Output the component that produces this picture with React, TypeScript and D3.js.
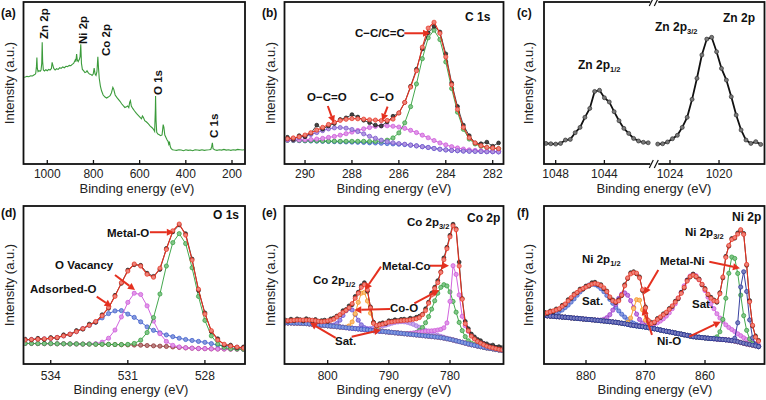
import React from "react";
import * as d3 from "d3";

const FONT = "'Liberation Sans', Arial, Helvetica, sans-serif";

// ---------- layout (frames) ----------
const COLS: [number, number][] = [[23.5, 245], [284.5, 503.5], [544, 764.5]];
const ROWS: [number, number][] = [[2, 164], [206, 364]];

// ---------- colours ----------
const RED = "#e5301f";
const GREEN = "#2f9e3a";
const MAGENTA = "#cc52d9";
const VIOLET = "#7a52cc";
const BLUE = "#3556c8";
const NAVY = "#232c95";
const ORANGE = "#f7941d";
const PURPLE = "#9a2fc9";
const BROWN = "#8a2b2b";
const LAVENDER = "#a070e0";
const INDIGO = "#6048d0";
const SURVEY_GREEN = "#3b9b3b";

// ================= (a) survey =================
const surveyBE = [1104,1095,1088,1080,1072,1064,1058,1052,1050,1047,1045,1043,1040,1036,1031,1027,1024,1022,1020,1017,1012,1006,1000,994,988,982,979,976,972,966,960,953,946,940,933,926,919,912,905,898,892,886,882,879,876,873,870,866,861,858,855,852,848,843,837,832,828,823,817,811,806,801,797,793,789,785,781,778,775,770,765,758,750,743,736,728,722,716,712,706,699,692,685,678,671,664,657,652,647,643,640,636,630,622,614,606,598,592,588,584,578,570,562,554,546,540,535,532,531,529,526,521,515,509,503,498,495,491,486,481,477,474,471,468,464,458,450,440,430,420,410,400,390,380,370,360,350,340,330,320,310,300,292,288,285,282,275,265,255,245,235,225,215,205,195,185,175,165,155,147];
const surveyI = [53.5,53.7,54.1,53.9,54.5,54.3,54.9,55.5,56.0,60.1,65.8,59.0,57.0,57.6,57.2,58.0,62.1,75.1,63.2,58.0,57.4,58.2,57.6,58.4,58.0,59.0,62.7,61.1,59.0,58.0,58.8,58.4,59.4,59.0,59.9,59.4,60.3,60.1,60.9,60.7,61.5,62.1,63.2,64.2,63.2,67.9,64.2,63.2,64.6,66.2,73.9,62.1,58.4,57.6,56.4,56.8,57.6,56.4,55.5,55.3,54.7,55.5,59.2,55.5,54.7,57.0,66.2,59.0,52.9,48.1,45.2,42.6,41.3,40.7,41.3,42.2,44.0,47.3,46.1,42.6,41.1,39.9,38.7,37.2,36.0,34.9,35.4,35.8,34.8,38.2,39.1,35.8,34.3,32.7,31.2,30.0,28.8,27.9,29.6,28.8,26.7,25.9,24.7,23.4,22.4,21.4,20.1,33.3,42.0,27.1,19.5,18.5,18.1,17.5,17.9,24.3,22.6,17.9,16.4,14.8,14.0,12.3,13.8,11.1,9.6,8.8,8.6,8.4,8.8,8.6,8.2,8.8,8.4,8.6,8.2,8.8,8.6,8.4,8.8,8.4,8.6,8.8,9.0,10.7,13.1,9.4,8.8,8.4,8.8,8.6,9.0,8.6,8.8,8.4,8.8,8.6,9.0,8.8,8.6,8.8];
const surveyDomain: [number, number] = [1103, 143.7];
const surveyTicks = [1000, 800, 600, 400, 200];

// ================= (b) C 1s =================
const c1sBE = [290.75,290.5,290.25,290,289.75,289.5,289.25,289,288.75,288.5,288.25,288,287.75,287.5,287.25,287,286.75,286.5,286.25,286,285.75,285.5,285.25,285,284.75,284.5,284.25,284,283.75,283.5,283.25,283,282.75,282.5,282.25,282,281.75];
const c1sBaseline = [14.6,14.5,14.4,14.3,14.2,14.1,14.0,13.9,13.8,13.7,13.6,13.5,13.4,13.3,13.1,13.0,12.8,12.6,12.4,12.2,12.0,11.6,11.2,10.7,10.2,9.6,9.1,8.7,8.4,8.2,8.0,7.9,7.8,7.7,7.6,7.6,7.5];
const c1sCC = [0.1,0.1,0.1,0.1,0.2,0.2,0.2,0.2,0.3,0.3,0.4,0.5,0.6,0.7,0.8,1.0,1.35,2.1,3.7,7.0,13.4,23.8,38.2,54.3,67.7,73,67.7,54.3,38.2,23.8,13.4,7.5,4.6,3.2,2.5,2.1,1.9];
const c1sCO = [0.2,0.3,0.4,0.6,0.9,1.3,1.8,2.5,3.2,4.1,5.1,6.2,7.3,8.4,9.4,10.2,10.7,11.0,10.9,10.6,10.0,9.2,8.2,7.1,6.0,4.9,3.9,3.1,2.3,1.7,1.2,0.8,0.6,0.4,0.2,0.2,0.1];
const c1sOCO = [0.7,1.2,1.9,2.9,4.0,5.3,6.6,7.8,8.5,8.8,8.5,7.8,6.6,5.3,4.0,2.9,1.9,1.2,0.7,0.4,0.2,0.1];
const c1sEnvelope = [15.6,16.1,16.8,17.9,19.3,20.9,22.6,24.4,25.8,26.9,27.6,28.0,27.9,27.7,27.3,27.1,26.8,26.9,27.7,31.5,38.0,47.5,57.6,72.1,83.9,87.5,80.7,66.1,48.9,33.7,22.6,16.2,13.0,11.3,10.3,9.9,9.5];
const c1sRaw = [16.5,15.0,17.5,16.8,19.0,24.0,21.5,23.5,25.0,27.5,28.5,30.5,29.0,27.0,25.5,24.0,23.5,26.0,29.5,31.5,38.0,48.0,58.5,71.0,81.0,85.0,81.5,68.0,50.0,35.5,24.0,17.5,13.0,12.5,13.5,11.0,13.0];
const c1sDomain: [number, number] = [290.875, 281.54];
const c1sTicks = [290, 288, 286, 284, 282];

// ================= (c) Zn 2p =================
const znLeftBE = [1048.8,1048.4,1048.0,1047.6,1047.2,1046.8,1046.4,1046.0,1045.6,1045.2,1044.8,1044.4,1044.0,1043.6,1043.2,1042.8,1042.4,1042.0,1041.6,1041.2,1040.8,1040.4];
const znLeftI = [12.7,12.5,12.3,12.7,14.8,15.2,19.3,22.6,28.8,34.3,44.8,45.5,40.9,38.3,32.3,26.7,22.0,18.9,15.8,14.2,13.4,13.1];
const znRightBE = [1025.0,1024.6,1024.2,1023.8,1023.4,1023.0,1022.6,1022.2,1021.8,1021.4,1021.0,1020.6,1020.2,1019.8,1019.4,1019.0,1018.6,1018.2,1017.8,1017.4,1017.0,1016.6];
const znRightI = [12.3,12.5,13.6,15.6,17.7,22.6,28.8,39.9,52.9,67.3,77.1,78.2,69.3,59.0,51.8,41.5,30.2,21.0,14.8,12.7,13.8,12.1];
const znLeftDomain: [number, number] = [1048.96, 1039.9];
const znRightDomain: [number, number] = [1025.28, 1016.29];
const znLeftTicks = [1048, 1044];
const znRightTicks = [1024, 1020];

// ================= (d) O 1s =================
const o1sBE = [535,534.75,534.5,534.25,534,533.75,533.5,533.25,533,532.75,532.5,532.25,532,531.75,531.5,531.25,531,530.75,530.5,530.25,530,529.75,529.5,529.25,529,528.75,528.5,528.25,528,527.75,527.5,527.25,527,526.75,526.5];
const o1sBaseline = [13.0,13.0,12.9,12.9,12.9,12.8,12.8,12.7,12.7,12.6,12.6,12.5,12.5,12.4,12.3,12.2,12.1,12.0,11.9,11.7,11.5,11.3,11.1,10.8,10.5,10.2,10.0,9.8,9.7,9.6,9.5,9.5,9.4,9.4,9.3];
const o1sMetalO = [0.1,0.3,1.0,3.2,8.2,17.9,33.0,50.9,66.0,72,66.0,50.9,33.0,17.9,8.2,3.2,1.0,0.3,0.1];
const o1sVacancy = [0.1,0.35,1.3,3.9,9.2,17.6,26.9,32.8,32.1,25.1,15.7,7.9,3.2,1.0,0.3,0.1];
const o1sAdsorbed = [2.2,2.5,2.8,3.0,3.3,4.0,5.0,6.2,7.8,9.8,11.8,14.0,16.7,19.5,21.3,21.6,19.5,17.5,14.8,11.8,9.8,8.4,7.3,6.5,5.8,5.3,4.9,4.5,4.0,3.3,2.5,2.0,1.7,1.2,0.8];
const o1sEnvelope = [15.2,15.5,15.7,15.9,16.2,16.8,17.8,18.9,20.5,22.4,24.5,26.9,30.5,35.8,42.8,51.5,58.8,63.3,62.0,56.8,54.9,60.6,72.5,84.3,88.6,81.6,65.8,47.3,31.6,21.1,15.2,12.5,11.4,10.7,10.1];
const o1sRaw = [15.8,15.2,16.3,15.5,16.8,16.4,18.5,18.6,21.2,22.0,25.3,26.4,31.2,35.2,43.5,51.0,59.5,62.8,62.5,57.5,55.5,59.8,73.2,83.6,88.0,82.5,66.5,46.5,32.4,20.5,16.0,12.0,12.0,10.2,10.8];
const o1sDomain: [number, number] = [535.06, 526.44];
const o1sTicks = [534, 531, 528];

// ================= (e) Co 2p =================
const coBE = [807,806.5,806,805.5,805,804.5,804,803.5,803,802.5,802,801.5,801,800.5,800,799.5,799,798.5,798,797.5,797,796.5,796,795.5,795,794.5,794,793.5,793,792.5,792,791.5,791,790.5,790,789.5,789,788.5,788,787.5,787,786.5,786,785.5,785,784.5,784,783.5,783,782.5,782,781.5,781,780.5,780,779.5,779,778.5,778,777.5,777,776.5,776,775.5,775,774.5,774,773.5,773,772.5,772,771.5];
const coBaseline = [26.0,26.0,26.0,25.9,25.9,25.8,25.7,25.6,25.4,25.2,25.0,24.8,24.6,24.4,24.2,24.0,23.8,23.6,23.4,23.2,23.0,22.8,22.6,22.4,22.2,22.0,21.8,21.6,21.4,21.2,21.0,20.8,20.6,20.4,20.2,20.0,19.8,19.6,19.4,19.2,19.0,18.8,18.6,18.4,18.2,18.0,17.8,17.6,17.4,17.2,17.0,16.7,16.4,16.0,15.6,15.2,14.7,14.2,13.7,13.2,12.7,12.2,11.8,11.4,11.0,10.6,10.2,9.9,9.6,9.2,8.9,8.6];
const coSatHigh = [0.4,0.6,0.8,1.0,1.3,1.6,1.8,1.95,2.0,1.95,1.8,1.6,1.3,1.0,0.8,0.6,0.4,0.3,0.2,0.1];
const coSatLow = [0.2,0.3,0.5,0.8,1.1,1.5,2.1,2.7,3.4,4.2,5.0,5.8,6.5,7.0,7.4,7.5,7.4,7.0,6.5,5.8,5.0,4.2,3.4,2.7,2.1,1.5,1.1,0.8,0.5,0.3,0.2];
const coOxide12 = [0.2,0.8,2.0,4.3,7.5,10.7,12.35,11.6,8.9,5.5,2.8,1.2,0.4,0.1];
const coMetal12 = [0.3,1.3,4.0,9.4,16.8,22.8,23.5,18.3,10.8,4.8,1.6,0.4,0.1];
const coOxide32 = [0.2,0.4,0.8,1.6,3.0,5.1,8.3,12.4,17.3,22.8,27.8,31.8,33.8,33.4,30.0,24.4,18.1,12.1,7.4,4.1,2.0,0.9,0.4,0.2,0.1];
const coMetal32 = [0.3,0.6,1.0,1.5,2.0,2.5,3.0,3.3,3.6,4.0,4.5,5.2,6.5,10.0,24.0,47.0,42.0,29.5,16.5,11.0,8.0,6.0,4.6,3.6,2.9,2.3,1.9,1.5,1.2,1.0,0.8,0.6];
const coEnvelope = [27.2,27.4,27.5,27.7,27.8,27.8,27.8,27.8,27.8,27.7,27.4,27.1,26.8,27.0,27.3,27.7,28.4,29.8,31.2,32.7,34.0,35.6,38.2,41.6,44.8,48.5,50.2,47.0,35.5,25.7,24.3,24.8,25.3,25.9,26.5,26.7,27.0,27.2,27.4,27.6,27.7,27.9,28.3,28.6,29.4,31.2,33.8,38.5,43.7,47.8,51.5,58.0,66.0,73.0,80.5,87.5,85.0,62.0,41.0,25.5,21.0,17.6,15.8,14.3,13.2,12.2,11.3,10.7,10.2,9.7,9.3,9.0];
const coRaw = [28.0,27.0,28.4,27.3,28.6,28.1,27.2,28.7,28.0,27.1,28.2,26.9,27.5,27.8,26.9,28.6,29.1,30.4,31.0,33.8,34.5,36.8,37.5,42.8,45.5,49.6,51.5,46.0,36.2,26.5,24.0,25.6,26.1,25.5,27.4,27.2,28.0,27.5,28.3,28.4,27.9,29.0,28.6,29.6,30.3,31.6,35.0,39.2,44.8,48.6,52.8,58.4,67.2,73.9,81.5,88.5,85.6,64.5,41.5,27.0,22.4,19.0,17.2,15.6,14.8,13.1,12.8,11.6,12.0,10.6,11.0,10.4];
const coDomain: [number, number] = [807.06, 771.25];
const coTicks = [800, 790, 780];

// ================= (f) Ni 2p =================
const niBE = [887,886.5,886,885.5,885,884.5,884,883.5,883,882.5,882,881.5,881,880.5,880,879.5,879,878.5,878,877.5,877,876.5,876,875.5,875,874.5,874,873.5,873,872.5,872,871.5,871,870.5,870,869.5,869,868.5,868,867.5,867,866.5,866,865.5,865,864.5,864,863.5,863,862.5,862,861.5,861,860.5,860,859.5,859,858.5,858,857.5,857,856.5,856,855.5,855,854.5,854,853.5,853,852.5,852,851.5,851];
const niBaseline = [30.6,30.5,30.3,30.2,30.0,29.9,29.7,29.6,29.4,29.2,29.0,28.9,28.7,28.5,28.3,28.2,28.0,27.8,27.6,27.4,27.2,27.0,26.8,26.6,26.4,26.1,25.8,25.5,25.1,24.7,24.4,24.1,23.8,23.6,23.3,23.0,22.6,22.3,21.9,21.5,21.1,20.7,20.4,20.0,19.6,19.2,18.9,18.5,18.1,17.7,17.3,17.1,16.9,16.7,16.5,16.3,16.1,16.0,15.8,15.6,15.5,15.3,15.1,14.8,14.5,14.1,13.6,13.1,12.7,12.3,11.9,11.5,11.0];
const niSat12 = [0.4,0.7,1.0,1.6,2.3,3.3,4.5,6.1,7.9,10.0,12.2,14.6,16.9,18.9,20.7,21.8,22.5,22.4,21.7,20.3,18.6,16.4,14.1,11.8,9.5,7.5,5.7,4.2,3.0,2.1,1.4,0.9,0.6,0.4,0.2,0.1];
const niOxide12 = [0.2,0.4,1.1,2.3,4.4,7.5,11.4,15.4,18.4,19.5,18.4,15.4,11.4,7.5,4.4,2.3,1.1,0.4,0.2];
const niMetal12 = [0.2,1.2,4.4,10.7,16.6,16.6,10.7,4.4,1.2,0.2];
const niSat32 = [0.2,0.3,0.5,0.8,1.3,2.0,3.0,4.2,5.7,7.5,9.6,12.0,15.0,18.5,22.5,26.5,31.0,35.0,38.0,39.4,38.8,36.5,33.5,30.0,26.0,22.0,19.0,16.0,13.5,11.5,9.5,8.0,7.0,6.0,5.0,4.3,3.5,2.8,2.2,1.8,1.4,1.0];
const niOxide32 = [0.3,1.4,4.8,12.7,26.3,42.3,52.9,52.3,43.2,30.0,17.5,8.6,3.5,1.2,0.4,0.1];
const niMetal32 = [0.1,1.8,12.0,35.1,45.3,33.2,15.6,4.7,0.9,0.1];
const niEnvelope = [32.0,32.5,33.0,33.6,34.2,35.0,36.5,38.0,40.0,42.0,43.8,45.3,46.8,47.8,48.7,49.7,50.6,51.0,50.6,49.6,48.2,45.8,42.5,40.0,39.3,40.0,43.6,49.5,54.5,57.0,57.9,57.5,54.5,47.0,35.5,27.5,25.7,26.5,28.2,29.8,31.2,32.8,34.6,36.8,39.2,41.8,44.7,48.5,52.5,55.3,56.3,55.4,53.3,50.5,47.3,44.2,41.6,40.0,39.6,44.5,55.0,67.5,75.0,78.8,80.0,82.2,85.0,82.0,63.0,39.4,24.5,17.0,14.5];
const niRaw = [32.8,31.9,33.6,33.0,34.9,34.6,37.2,37.6,40.8,41.5,44.4,45.0,47.5,47.3,49.4,49.2,51.5,51.8,50.2,50.3,47.6,46.2,42.0,40.6,38.8,40.7,43.2,50.2,54.0,57.8,58.5,57.0,55.2,46.4,36.2,27.0,26.4,26.0,28.9,29.3,31.8,32.3,35.2,36.3,39.8,41.2,45.4,48.0,53.2,55.0,57.0,55.0,53.9,50.0,47.9,43.8,42.3,40.6,39.0,45.2,54.4,68.2,74.5,79.5,79.6,83.0,84.6,82.7,62.4,40.2,24.0,17.8,15.0];
const niDomain: [number, number] = [887.06, 850.0];
const niTicks = [880, 870, 860];

// ---------- helpers ----------
type Pt = [number, number];
type Comp = { color: string; startBE: number; values: number[] };
type ArrowSpec = { from: Pt; to: Pt };

const lineGen = (x: (v: number) => number, y: (v: number) => number) =>
  d3.line<Pt>().x((d) => x(d[0])).y((d) => y(d[1]));

function Dotted({ pts, x, y, color, r = 2.1, sw = 0.9, fill, lineColor }: any) {
  const light = fill || d3.interpolateRgb(color, "#ffffff")(0.4);
  const path = lineGen(x, y)(pts) || "";
  return (
    <g>
      <path d={path} fill="none" stroke={lineColor || color} strokeWidth={sw} />
      {pts.map((p: Pt, i: number) => (
        <circle key={i} cx={x(p[0])} cy={y(p[1])} r={r} fill={light} stroke={color} strokeWidth={0.7} />
      ))}
    </g>
  );
}

function Arrow({ x1, y1, x2, y2 }: { x1: number; y1: number; x2: number; y2: number }) {
  const ang = Math.atan2(y2 - y1, x2 - x1);
  const L = 7, W = 3.6;
  const bx = x2 - L * Math.cos(ang), by = y2 - L * Math.sin(ang);
  const px = -Math.sin(ang) * W, py = Math.cos(ang) * W;
  return (
    <g>
      <line x1={x1} y1={y1} x2={bx} y2={by} stroke={RED} strokeWidth={2} />
      <polygon points={`${x2},${y2} ${bx + px},${by + py} ${bx - px},${by - py}`} fill={RED} />
    </g>
  );
}

function Axes({ col, row, tag, titleX, ylabX }: { col: number; row: number; tag: string; titleX: number; ylabX: number }) {
  const [x0, x1] = COLS[col];
  const [y0, y1] = ROWS[row];
  const titleY = row === 0 ? 192.5 : 394;
  const tagY = row === 0 ? 17 : 217;
  const tagX = [1, 262, 517][col];
  return (
    <g>
      <rect x={x0} y={y0} width={x1 - x0} height={y1 - y0} fill="none" stroke="#111" strokeWidth={1.8} />
      <text x={titleX} y={titleY} textAnchor="middle" fontSize={13} fill="#222">Binding energy (eV)</text>
      <text transform={`translate(${ylabX},${(y0 + y1) / 2}) rotate(-90)`} textAnchor="middle" fontSize={13} fill="#222">Intensity (a.u.)</text>
      <text x={tagX} y={tagY} fontSize={12} fontWeight="bold" fill="#111">{tag}</text>
    </g>
  );
}

function Ticks({ scale, ticks, row }: { scale: (v: number) => number; ticks: number[]; row: number }) {
  const y1 = ROWS[row][1];
  const lab = row === 0 ? 178 : 380;
  return (
    <g>
      {ticks.map((t) => (
        <g key={t}>
          <line x1={scale(t)} x2={scale(t)} y1={y1} y2={y1 - 4} stroke="#111" strokeWidth={1.3} />
          <text x={scale(t)} y={lab} textAnchor="middle" fontSize={12} fill="#222">{t}</text>
        </g>
      ))}
    </g>
  );
}

function Label({ x, y, children, size = 11.5 }: any) {
  return <text x={x} y={y} fontSize={size} fontWeight="bold" fill="#111">{children}</text>;
}

function Sub({ children }: any) {
  return <tspan fontSize={7.5} dy={3}>{children}</tspan>;
}

function FitPanel(props: {
  id: string; col: number; row: number; domain: [number, number]; ticks: number[];
  grid: number[]; baseline: number[]; baseColor: string; baseUnder: boolean;
  comps: Comp[]; envelope: number[]; raw: number[]; arrows: ArrowSpec[];
  tag: string; titleX: number; ylabX: number; children?: any;
}) {
  const { id, col, row, domain, ticks, grid, baseline, baseColor, baseUnder, comps, envelope, raw, arrows } = props;
  const [x0, x1] = COLS[col];
  const [y0, y1] = ROWS[row];
  const x = d3.scaleLinear().domain(domain).range([x0, x1]);
  const y = d3.scaleLinear().domain([0, 100]).range([y1, y0]);
  const basePts: Pt[] = grid.map((b, i) => [b, baseline[i]]);
  const compPts = comps.map((c) => {
    const s = grid.indexOf(c.startBE);
    return grid.map((b, i) => [b, baseline[i] + (i >= s && i < s + c.values.length ? c.values[i - s] : 0)] as Pt);
  });
  const envPts: Pt[] = grid.map((b, i) => [b, envelope[i]]);
  const rawPts: Pt[] = grid.map((b, i) => [b, raw[i]]);
  const baseEl = <Dotted pts={basePts} x={x} y={y} color={baseColor} />;
  return (
    <g>
      <defs>
        <clipPath id={`clip-${id}`}>
          <rect x={x0 + 1} y={y0 + 1} width={x1 - x0 - 2} height={y1 - y0 - 2} />
        </clipPath>
      </defs>
      <g clipPath={`url(#clip-${id})`}>
        {baseUnder && baseEl}
        {comps.map((c, k) => (
          <Dotted key={k} pts={compPts[k]} x={x} y={y} color={c.color} />
        ))}
        {!baseUnder && baseEl}
        <Dotted pts={rawPts} x={x} y={y} color="#1a1a1a" r={1.9} sw={0.8} fill="#444" />
        <Dotted pts={envPts} x={x} y={y} color={RED} r={2.1} sw={1.1} />
      </g>
      <Axes col={col} row={row} tag={props.tag} titleX={props.titleX} ylabX={props.ylabX} />
      <Ticks scale={x} ticks={ticks} row={row} />
      {arrows.map((a, k) => (
        <Arrow key={k} x1={x(a.from[0])} y1={y(a.from[1])} x2={x(a.to[0])} y2={y(a.to[1])} />
      ))}
      {props.children}
    </g>
  );
}

function SurveyPanel() {
  const [x0, x1] = COLS[0];
  const [y0, y1] = ROWS[0];
  const x = d3.scaleLinear().domain(surveyDomain).range([x0, x1]);
  const y = d3.scaleLinear().domain([0, 100]).range([y1, y0]);
  const pts: Pt[] = surveyBE.map((b, i) => [b, surveyI[i]]);
  const path = lineGen(x, y)(pts) || "";
  const vlab = (tx: number, ty: number, s: string) => (
    <text transform={`translate(${tx},${ty}) rotate(-90)`} fontSize={11.5} fontWeight="bold" fill="#111">{s}</text>
  );
  return (
    <g>
      <path d={path} fill="none" stroke={SURVEY_GREEN} strokeWidth={1.1} />
      <Axes col={0} row={0} tag="(a)" titleX={137} ylabX={14} />
      <Ticks scale={x} ticks={surveyTicks} row={0} />
      {vlab(48, 39, "Zn 2p")}
      {vlab(87, 44, "Ni 2p")}
      {vlab(110, 56, "Co 2p")}
      {vlab(162, 95, "O 1s")}
      {vlab(218, 138, "C 1s")}
    </g>
  );
}

function ZnPanel() {
  const [y0, y1] = ROWS[0];
  const xb = 654.3;
  const xL = d3.scaleLinear().domain(znLeftDomain).range([COLS[2][0], xb]);
  const xR = d3.scaleLinear().domain(znRightDomain).range([xb, COLS[2][1]]);
  const y = d3.scaleLinear().domain([0, 100]).range([y1, y0]);
  const left: Pt[] = znLeftBE.map((b, i) => [b, znLeftI[i]]);
  const right: Pt[] = znRightBE.map((b, i) => [b, znRightI[i]]);
  const brk = (yy: number) => (
    <g stroke="#111" strokeWidth={1.2}>
      <rect x={xb - 4} y={yy - 2} width={8} height={4} fill="#fff" stroke="none" />
      <line x1={xb - 5} y1={yy + 4} x2={xb - 1} y2={yy - 4} />
      <line x1={xb} y1={yy + 4} x2={xb + 4} y2={yy - 4} />
    </g>
  );
  return (
    <g>
      <Dotted pts={left} x={xL} y={y} color="#333" lineColor="#111" r={2.0} sw={1.8} fill="#7a7a7a" />
      <Dotted pts={right} x={xR} y={y} color="#333" lineColor="#111" r={2.0} sw={1.8} fill="#7a7a7a" />
      <Axes col={2} row={0} tag="(c)" titleX={654} ylabX={533} />
      <Ticks scale={xL} ticks={znLeftTicks} row={0} />
      <Ticks scale={xR} ticks={znRightTicks} row={0} />
      {brk(y0)}
      {brk(y1)}
      <Label x={723} y={21.5} size={12}>Zn 2p</Label>
      <Label x={655} y={30.5} size={12}>Zn 2p<Sub>3/2</Sub></Label>
      <Label x={578} y={68.5} size={12}>Zn 2p<Sub>1/2</Sub></Label>
    </g>
  );
}

export default function App() {
  return (
    <svg width={766} height={400} style={{ position: "absolute", left: 0, top: 0, background: "#fff" }} fontFamily={FONT}>
      <rect width={766} height={400} fill="#fff" />
      <SurveyPanel />
      <FitPanel
        id="b" col={1} row={0} domain={c1sDomain} ticks={c1sTicks} grid={c1sBE}
        baseline={c1sBaseline} baseColor={BLUE} baseUnder={true}
        comps={[
          { color: GREEN, startBE: 290.75, values: c1sCC },
          { color: MAGENTA, startBE: 290.75, values: c1sCO },
          { color: VIOLET, startBE: 290.75, values: c1sOCO },
        ]}
        envelope={c1sEnvelope} raw={c1sRaw}
        arrows={[
          { from: [285.77, 80.7], to: [284.67, 80.7] },
          { from: [289.03, 35.8], to: [288.77, 25.5] },
          { from: [286.48, 35.4], to: [286.71, 26.7] },
        ]}
        tag="(b)" titleX={394} ylabX={275}
      >
        <Label x={465} y={20.7} size={12}>C 1s</Label>
        <Label x={355} y={37}>C−C/C=C</Label>
        <Label x={307} y={101}>O−C=O</Label>
        <Label x={370} y={101}>C−O</Label>
      </FitPanel>
      <ZnPanel />
      <FitPanel
        id="d" col={0} row={1} domain={o1sDomain} ticks={o1sTicks} grid={o1sBE}
        baseline={o1sBaseline} baseColor={BROWN} baseUnder={true}
        comps={[
          { color: BLUE, startBE: 535, values: o1sAdsorbed },
          { color: MAGENTA, startBE: 532.5, values: o1sVacancy },
          { color: GREEN, startBE: 531.25, values: o1sMetalO },
        ]}
        envelope={o1sEnvelope} raw={o1sRaw}
        arrows={[
          { from: [530.14, 83.4], to: [529.21, 83.4] },
          { from: [531.5, 56.3], to: [530.72, 46.8] },
          { from: [532.21, 42.6], to: [531.63, 36.3] },
        ]}
        tag="(d)" titleX={131} ylabX={14}
      >
        <Label x={213} y={218.5} size={12}>O 1s</Label>
        <Label x={107} y={236.5}>Metal-O</Label>
        <Label x={55} y={268.5}>O Vacancy</Label>
        <Label x={30} y={293}>Adsorbed-O</Label>
      </FitPanel>
      <FitPanel
        id="e" col={1} row={1} domain={coDomain} ticks={coTicks} grid={coBE}
        baseline={coBaseline} baseColor={BLUE} baseUnder={false}
        comps={[
          { color: LAVENDER, startBE: 807, values: coSatHigh },
          { color: LAVENDER, startBE: 795, values: coSatLow },
          { color: GREEN, startBE: 787, values: coOxide32 },
          { color: MAGENTA, startBE: 787, values: coMetal32 },
          { color: INDIGO, startBE: 799.5, values: coOxide12 },
          { color: ORANGE, startBE: 797, values: coMetal12 },
        ]}
        envelope={coEnvelope} raw={coRaw}
        arrows={[
          { from: [783.27, 62.2], to: [780.16, 62.2] },
          { from: [791.28, 61.6], to: [793.9, 46.8] },
          { from: [789.81, 34.8], to: [795.65, 34.2] },
          { from: [785.83, 38.4], to: [781.75, 46.8] },
          { from: [798.69, 16.6], to: [802.89, 26.1] },
          { from: [796.07, 17.3], to: [791.28, 21.5] },
        ]}
        tag="(e)" titleX={394} ylabX={275}
      >
        <Label x={467} y={221.5} size={12}>Co 2p</Label>
        <Label x={407} y={226}>Co 2p<Sub>3/2</Sub></Label>
        <Label x={382} y={270}>Metal-Co</Label>
        <Label x={313} y={283.5}>Co 2p<Sub>1/2</Sub></Label>
        <Label x={390} y={312}>Co-O</Label>
        <Label x={335} y={345}>Sat.</Label>
      </FitPanel>
      <FitPanel
        id="f" col={2} row={1} domain={niDomain} ticks={niTicks} grid={niBE}
        baseline={niBaseline} baseColor={NAVY} baseUnder={false}
        comps={[
          { color: BLUE, startBE: 887, values: niSat12 },
          { color: MAGENTA, startBE: 871.5, values: niSat32 },
          { color: PURPLE, startBE: 878, values: niOxide12 },
          { color: ORANGE, startBE: 873.5, values: niMetal12 },
          { color: GREEN, startBE: 858.5, values: niOxide32 },
          { color: NAVY, startBE: 855.5, values: niMetal32 },
        ]}
        envelope={niEnvelope} raw={niRaw}
        arrows={[
          { from: [867.85, 59.5], to: [870.25, 44.1] },
          { from: [859.28, 64.7], to: [854.12, 60.6] },
          { from: [868.91, 18.4], to: [870.42, 35.4] },
          { from: [862.64, 17.3], to: [857.36, 26.8] },
        ]}
        tag="(f)" titleX={655} ylabX={533}
      >
        <Label x={732} y={221} size={12}>Ni 2p</Label>
        <Label x={685} y={236}>Ni 2p<Sub>3/2</Sub></Label>
        <Label x={582} y={263}>Ni 2p<Sub>1/2</Sub></Label>
        <Label x={660} y={265}>Metal-Ni</Label>
        <Label x={582} y={305}>Sat.</Label>
        <Label x={692} y={308}>Sat.</Label>
        <Label x={657} y={345}>Ni-O</Label>
      </FitPanel>
    </svg>
  );
}
